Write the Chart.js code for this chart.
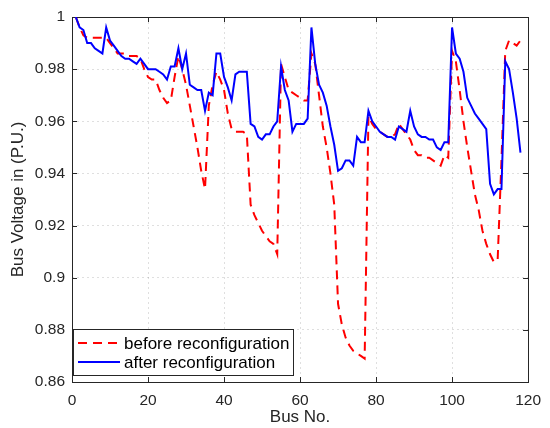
<!DOCTYPE html>
<html>
<head>
<meta charset="utf-8">
<script src="https://cdn.jsdelivr.net/npm/chart.js@4.4.1/dist/chart.umd.min.js"></script>
<style>
    body { margin: 0; background: #fff; }
</style>
</head>
<body>
<canvas id="voltage-chart" width="550" height="428"></canvas>
<script>
// Tegangan bus sebelum / sesudah rekonfigurasi (bus 1..118)
var beforeVoltage = [
    1.000, 0.996, 0.993, 0.992, 0.992, 0.992, 0.992, 0.992, 0.992, 0.990,
    0.988, 0.986, 0.986, 0.986, 0.985, 0.985, 0.985, 0.984, 0.980, 0.977,
    0.976, 0.976, 0.972, 0.969, 0.967, 0.968, 0.977, 0.985, 0.980, 0.974,
    0.966, 0.958, 0.950, 0.941, 0.934, 0.966, 0.974, 0.979, 0.976, 0.972,
    0.963, 0.957, 0.956, 0.956, 0.956, 0.955, 0.928, 0.924, 0.921, 0.918,
    0.916, 0.914, 0.913, 0.909, 0.982, 0.977, 0.972, 0.971, 0.970, 0.969,
    0.968, 0.968, 0.986, 0.982, 0.970, 0.958, 0.950, 0.940, 0.928, 0.890,
    0.882, 0.877, 0.874, 0.872, 0.871, 0.870, 0.869, 0.962, 0.959, 0.957,
    0.956, 0.955, 0.954, 0.954, 0.955, 0.959, 0.957, 0.955, 0.953, 0.949,
    0.947, 0.947, 0.946, 0.946, 0.945, 0.944, 0.943, 0.947, 0.946, 0.987,
    0.983, 0.972, 0.960, 0.950, 0.941, 0.932, 0.926, 0.918, 0.913, 0.909,
    0.906, 0.907, 0.945, 0.987, 0.991, 0.990, 0.989, 0.991
];
var afterVoltage = [
    1.000, 0.996, 0.995, 0.990, 0.990, 0.988, 0.987, 0.986, 0.996, 0.991,
    0.989, 0.987, 0.985, 0.984, 0.984, 0.983, 0.982, 0.984, 0.982, 0.980,
    0.980, 0.980, 0.979, 0.978, 0.976, 0.981, 0.981, 0.988, 0.980, 0.986,
    0.974, 0.973, 0.972, 0.972, 0.964, 0.971, 0.970, 0.986, 0.986, 0.977,
    0.973, 0.968, 0.978, 0.979, 0.979, 0.979, 0.959, 0.958, 0.954, 0.953,
    0.955, 0.955, 0.958, 0.960, 0.981, 0.972, 0.968, 0.956, 0.959, 0.959,
    0.959, 0.961, 0.996, 0.982, 0.974, 0.971, 0.966, 0.958, 0.951, 0.941,
    0.942, 0.945, 0.945, 0.943, 0.954, 0.952, 0.952, 0.964, 0.960, 0.958,
    0.956, 0.955, 0.954, 0.954, 0.953, 0.958, 0.957, 0.956, 0.964, 0.958,
    0.955, 0.954, 0.954, 0.953, 0.953, 0.950, 0.949, 0.952, 0.952, 0.996,
    0.986, 0.984, 0.979, 0.969, 0.966, 0.963, 0.961, 0.959, 0.957, 0.936,
    0.932, 0.934, 0.934, 0.983, 0.980, 0.971, 0.961, 0.948
];
var xTicks = [0, 20, 40, 60, 80, 100, 120];
var yTicks = [0.86, 0.88, 0.9, 0.92, 0.94, 0.96, 0.98, 1];
var seriesNames = ['before reconfiguration', 'after reconfiguration'];

function toPoints(values) {
    return values.map(function (v, i) { return { x: i + 1, y: v }; });
}

var axisColor = '#262626';
var fontFamily = '"Liberation Sans", Arial, Helvetica, sans-serif';

// Kotak sumbu + tick ke dalam (gaya MATLAB)
var boxAndTicks = {
    id: 'boxAndTicks',
    beforeDatasetsDraw: function (chart) {
        var ctx = chart.ctx, a = chart.chartArea;
        var xs = chart.scales.x, ys = chart.scales.y;
        ctx.save();
        ctx.strokeStyle = axisColor;
        ctx.lineWidth = 1;
        ctx.beginPath();
        xTicks.forEach(function (v) {
            var px = Math.round(xs.getPixelForValue(v)) + 0.5;
            ctx.moveTo(px, a.bottom); ctx.lineTo(px, a.bottom - 5);
            ctx.moveTo(px, a.top); ctx.lineTo(px, a.top + 5);
        });
        yTicks.forEach(function (v) {
            var py = Math.round(ys.getPixelForValue(v)) + 0.5;
            ctx.moveTo(a.left, py); ctx.lineTo(a.left + 5, py);
            ctx.moveTo(a.right, py); ctx.lineTo(a.right - 5, py);
        });
        ctx.stroke();
        ctx.strokeRect(Math.round(a.left) + 0.5, Math.round(a.top) + 0.5,
            Math.round(a.right - a.left), Math.round(a.bottom - a.top));
        ctx.restore();
    }
};

// Legenda di pojok kiri bawah, di dalam area plot
var innerLegend = {
    id: 'innerLegend',
    afterDraw: function (chart) {
        var ctx = chart.ctx, a = chart.chartArea;
        var x0 = a.left + 1, y0 = 329, w = 220, h = 46;
        ctx.save();
        ctx.fillStyle = '#fff';
        ctx.fillRect(x0, y0, w, h);
        ctx.strokeStyle = axisColor;
        ctx.lineWidth = 1;
        ctx.strokeRect(x0 + 0.5, y0 + 0.5, w, h);
        ctx.font = '17px ' + fontFamily;
        ctx.textBaseline = 'middle';
        [0, 1].forEach(function (i) {
            var ds = chart.data.datasets[i];
            var y = y0 + 14 + i * 19;
            ctx.strokeStyle = ds.borderColor;
            ctx.lineWidth = 2;
            ctx.setLineDash(ds.borderDash || []);
            ctx.beginPath();
            ctx.moveTo(x0 + 5, y);
            ctx.lineTo(x0 + 47, y);
            ctx.stroke();
            ctx.setLineDash([]);
            ctx.fillStyle = '#000';
            ctx.fillText(ds.label, x0 + 51, y + 1);
        });
        ctx.restore();
    }
};

var ctx = document.getElementById('voltage-chart').getContext('2d');
new Chart(ctx, {
    type: 'line',
    data: {
        datasets: [
            {
                label: seriesNames[0],
                data: toPoints(beforeVoltage),
                borderColor: '#ff0000',
                borderWidth: 2,
                borderDash: [9, 6],
                pointRadius: 0,
                tension: 0,
                fill: false,
                order: 1
            },
            {
                label: seriesNames[1],
                data: toPoints(afterVoltage),
                borderColor: '#0000ff',
                borderWidth: 2,
                pointRadius: 0,
                tension: 0,
                fill: false,
                order: 0
            }
        ]
    },
    options: {
        responsive: false,
        animation: false,
        layout: { padding: { top: 17, right: 15, left: 0, bottom: 0 } },
        plugins: {
            legend: { display: false },
            tooltip: { enabled: false }
        },
        scales: {
            x: {
                type: 'linear',
                min: 0,
                max: 120,
                afterFit: function (scale) { scale.height = 46; },
                afterBuildTicks: function (scale) {
                    scale.ticks = xTicks.map(function (v) { return { value: v }; });
                },
                grid: { color: 'rgba(38,38,38,0.15)', lineWidth: 1, drawTicks: false },
                border: { display: false, dash: [2, 3] },
                ticks: {
                    color: axisColor,
                    padding: 9,
                    maxRotation: 0,
                    font: { family: fontFamily, size: 15.5 }
                },
                title: {
                    display: true,
                    text: 'Bus No.',
                    color: axisColor,
                    padding: { top: 0, bottom: 0 },
                    font: { family: fontFamily, size: 17 }
                }
            },
            y: {
                type: 'linear',
                min: 0.86,
                max: 1,
                afterFit: function (scale) { scale.width = 72; },
                afterBuildTicks: function (scale) {
                    scale.ticks = yTicks.map(function (v) { return { value: v }; });
                },
                grid: { color: 'rgba(38,38,38,0.15)', lineWidth: 1, drawTicks: false },
                border: { display: false, dash: [2, 3] },
                ticks: {
                    color: axisColor,
                    padding: 7,
                    font: { family: fontFamily, size: 15.5 },
                    callback: function (v) { return String(+Number(v).toFixed(2)); }
                },
                title: {
                    display: true,
                    text: 'Bus Voltage in (P.U.)',
                    color: axisColor,
                    padding: { top: 8, bottom: 0 },
                    font: { family: fontFamily, size: 17 }
                }
            }
        }
    },
    plugins: [boxAndTicks, innerLegend]
});
</script>
</body>
</html>
